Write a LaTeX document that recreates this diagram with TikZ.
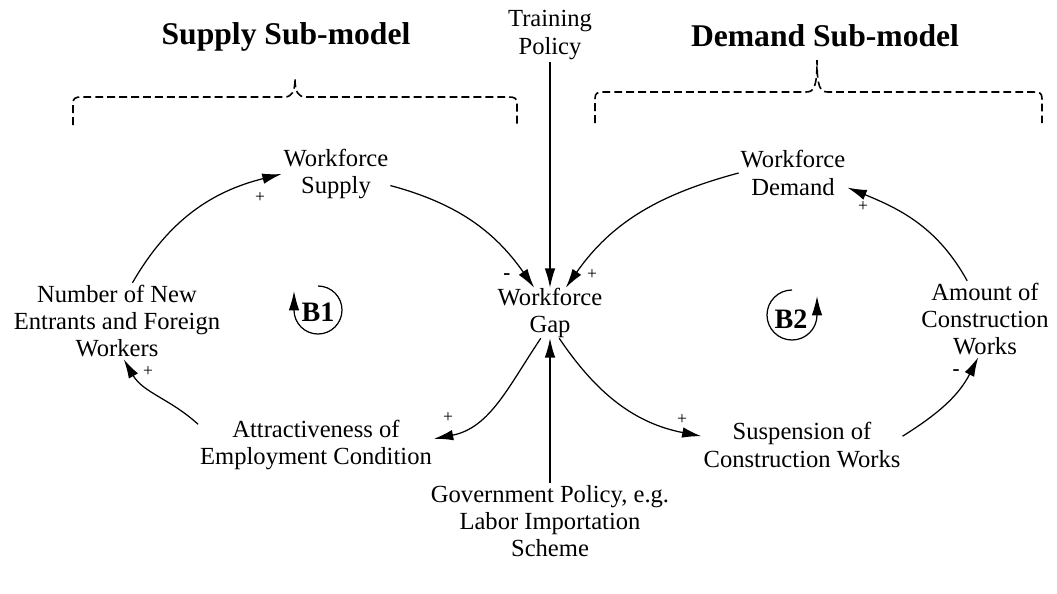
\documentclass[tikz,border=0pt]{standalone}
\usepackage{fontspec}
\setmainfont{Liberation Serif}
\usetikzlibrary{arrows.meta}

\begin{document}
\begin{tikzpicture}[x=0.02cm,y=0.02cm,
    var/.style={align=center,inner sep=1pt,font=\fontsize{14}{15.5}\selectfont},
    title/.style={inner sep=1pt,font=\fontsize{18}{20}\selectfont\bfseries},
    link/.style={line width=0.7pt,-{Latex[length=11pt,width=6pt]}},
    plus/.style={inner sep=0pt,font=\fontsize{10}{10}\selectfont},
    minus/.style={inner sep=0pt,font=\fontsize{12}{12}\selectfont\bfseries},
    brace/.style={line width=0.9pt,dash pattern=on 4.5pt off 2.3pt},
    loopmark/.style={inner sep=0pt,font=\fontsize{16}{18}\selectfont\bfseries}]
    \useasboundingbox (0,0) rectangle (1057,-593);

    % titles and braces
    \node[title] (suptitle) at (286,-37) {Supply Sub-model};
    \node[title] (demtitle) at (825,-36) {Demand Sub-model};
    \draw[brace] (73,-125) -- (73,-104) .. controls (73,-98) and (75,-97) .. (82,-97) -- (284,-97)
        .. controls (292,-97) and (295,-92) .. (295,-78)
        .. controls (295,-92) and (298,-97) .. (306,-97) -- (508,-97)
        .. controls (515,-97) and (517,-98) .. (517,-104) -- (517,-125);
    \draw[brace] (595,-123) -- (595,-99) .. controls (595,-93) and (597,-92) .. (604,-92) -- (806,-92)
        .. controls (814,-92) and (817,-87) .. (817,-60)
        .. controls (817,-87) and (820,-92) .. (828,-92) -- (1033,-92)
        .. controls (1040,-92) and (1042,-93) .. (1042,-99) -- (1042,-123);

    % variables
    \node[var] at (550,-35) (train) {Training\\Policy};
    \node[var] at (336,-174) (sup) {Workforce\\Supply};
    \node[var] at (793,-173) (dem) {Workforce\\Demand};
    \node[var, inner sep=0pt] at (550,-313) (gap) {Workforce\\Gap};
    \node[var] at (117,-321) (num) {Number of New\\Entrants and Foreign\\Workers};
    \node[var] at (985,-319) (amt) {Amount of\\Construction\\Works};
    \node[var] at (316,-445) (attr) {Attractiveness of\\Employment Condition};
    \node[var] at (802,-445) (susp) {Suspension of\\Construction Works};
    \node[var] at (550,-521) (gov) {Government Policy, e.g.\\Labor Importation\\Scheme};

    % links
    \draw[link] (num.68) to[out=60,in=194] (sup.west);
    \draw[link] (sup.-12) to[out=-15,in=125] (gap.122);
    \draw[link] (train.south) -- (gap.north);
    \draw[link] (dem.west) to[out=195,in=55] (gap.58);
    \draw[link] (amt.115) to[out=119,in=-22] (dem.-15);
    \draw[link] (susp.5) to[out=32,in=243] (amt.-100);
    \draw[link] (gap.-70) to[out=-56,in=169] (susp.175);
    \draw[link] (gap.-110) to[out=-124,in=11] (attr.3);
    \draw[link] (attr.170) to[out=138,in=-60] (num.-80);
    \draw[link] (gov.north) -- (gap.south);

    % polarities
    \node[plus] (p1) at (260,-198) {+};
    \node[minus] (m1) at (507,-277) {-};
    \node[plus] (p2) at (592,-275) {+};
    \node[plus] (p3) at (863,-207) {+};
    \node[minus] (m2) at (956,-373) {-};
    \node[plus] (p4) at (682,-420) {+};
    \node[plus] (p5) at (448,-418) {+};
    \node[plus] (p6) at (148,-372) {+};

    % loops
    \node[loopmark] (b1) at (318,-312) {B1};
    \draw[link] (318,-286) arc[start angle=90,end angle=-180,radius=24] -- ++(0,19);
    \node[loopmark] (b2) at (791,-319) {B2};
    \draw[link] (792,-290) arc[start angle=90,end angle=360,radius=25] -- ++(0,19);
\end{tikzpicture}
\end{document}
